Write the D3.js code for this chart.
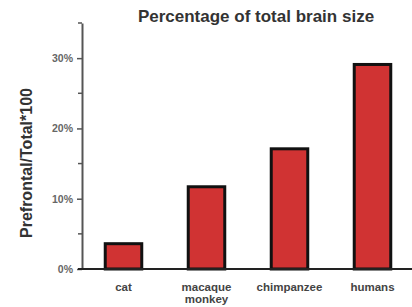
<!DOCTYPE html>
<html>
<head>
<meta charset="utf-8">
<script src="https://cdn.jsdelivr.net/npm/d3@7"></script>
<style>
  body { margin: 0; background: #fff; }
  text { font-family: "Liberation Sans", Arial, sans-serif; }
</style>
</head>
<body>
<script>
var species = ["cat", "macaque monkey", "chimpanzee", "humans"];
var prefrontal = [3.6, 11.7, 17.1, 29.1];
var majorTicks = [0, 10, 20, 30];
var minorTicks = [5, 15, 25, 35];

var w = 412, h = 307;
var svg = d3.select("body").append("svg")
            .attr("width", w)
            .attr("height", h);

var x = d3.scaleBand()
          .domain(species)
          .range([82, 414])
          .paddingInner(0.56)
          .paddingOuter(0.28);

var y = d3.scaleLinear()
          .domain([0, 35])
          .range([269, 23]);

// y axis
var yAxis = svg.append("g")
               .attr("transform", "translate(82,0)")
               .call(d3.axisLeft(y).tickValues(majorTicks).tickSize(5)
                       .tickSizeOuter(0)
                       .tickFormat(d => d + "%").tickPadding(4));
yAxis.select(".domain").attr("stroke", "#555").attr("stroke-width", 2);
yAxis.selectAll(".tick line").attr("stroke", "#555").attr("stroke-width", 1.5);
yAxis.selectAll("text").attr("font-size", 10.5).attr("font-weight", "bold")
     .attr("fill", "#666");

svg.append("g")
   .selectAll("line")
   .data(minorTicks)
   .enter()
   .append("line")
   .attr("x1", 78).attr("x2", 82)
   .attr("y1", d => y(d)).attr("y2", d => y(d))
   .attr("stroke", "#555").attr("stroke-width", 1.5);

// bars
svg.selectAll("rect.bar")
   .data(prefrontal)
   .enter()
   .append("rect")
   .attr("class", "bar")
   .attr("x", (d, i) => x(species[i]))
   .attr("y", d => y(d))
   .attr("width", x.bandwidth())
   .attr("height", d => y(0) - y(d))
   .attr("fill", "#d03333")
   .attr("stroke", "#111")
   .attr("stroke-width", 3);

// baseline
svg.append("line")
   .attr("x1", 78).attr("x2", 412)
   .attr("y1", y(0)).attr("y2", y(0))
   .attr("stroke", "#222").attr("stroke-width", 2);

// category labels
var labels = svg.selectAll("text.cat")
   .data(species)
   .enter()
   .append("text")
   .attr("class", "cat")
   .attr("x", d => x(d) + x.bandwidth() / 2)
   .attr("y", 291)
   .attr("text-anchor", "middle")
   .attr("font-size", 11.5)
   .attr("font-weight", "bold")
   .attr("fill", "#444");
labels.each(function (d) {
  var parts = d === "macaque monkey" ? ["macaque", "monkey"] : [d];
  d3.select(this).selectAll("tspan")
    .data(parts)
    .enter()
    .append("tspan")
    .attr("x", x(d) + x.bandwidth() / 2)
    .attr("dy", (p, i) => i === 0 ? 0 : 12)
    .text(p => p);
});

// title
svg.append("text")
   .attr("x", 256).attr("y", 22)
   .attr("text-anchor", "middle")
   .attr("font-size", 17)
   .attr("font-weight", "bold")
   .attr("fill", "#333")
   .text("Percentage of total brain size");

// y label
svg.append("text")
   .attr("transform", "translate(32,163) rotate(-90)")
   .attr("text-anchor", "middle")
   .attr("font-size", 16)
   .attr("font-weight", "bold")
   .attr("fill", "#333")
   .text("Prefrontal/Total*100");
</script>
</body>
</html>
